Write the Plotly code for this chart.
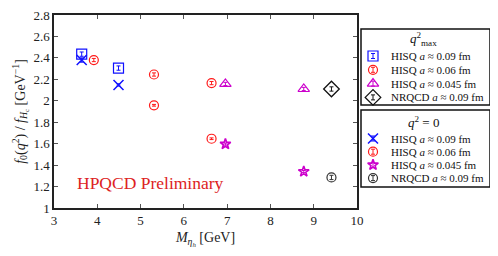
import plotly.graph_objects as go

# ---- data ----
hisq09_qmax_x = [3.64, 4.49]
hisq09_qmax_y = [2.435, 2.305]
hisq09_qmax_e = [0.02, 0.02]

hisq06_qmax_x = [3.92, 5.31, 6.64]
hisq06_qmax_y = [2.38, 2.245, 2.165]
hisq06_qmax_e = [0.015, 0.015, 0.015]

hisq045_qmax_x = [6.96, 8.77]
hisq045_qmax_y = [2.157, 2.11]
hisq045_qmax_e = [0.015, 0.015]

nrqcd_qmax_x = [9.41]
nrqcd_qmax_y = [2.11]
nrqcd_qmax_e = [0.02]

hisq09_q0_x = [3.64, 4.49]
hisq09_q0_y = [2.38, 2.148]
hisq09_q0_e = [0.02, 0.01]

hisq06_q0_x = [5.31, 6.64]
hisq06_q0_y = [1.958, 1.646]
hisq06_q0_e = [0.008, 0.008]

hisq045_q0_x = [6.96, 8.77]
hisq045_q0_y = [1.596, 1.34]
hisq045_q0_e = [0.01, 0.01]

nrqcd_q0_x = [9.41]
nrqcd_q0_y = [1.285]
nrqcd_q0_e = [0.02]

names = ["HISQ <i>a</i> ≈ 0.09 fm", "HISQ <i>a</i> ≈ 0.06 fm",
         "HISQ <i>a</i> ≈ 0.045 fm", "NRQCD <i>a</i> ≈ 0.09 fm"]

FONT = "Liberation Serif"
BLUE, RED, MAG, BLK, GRY = "#1010ff", "#ff1a1a", "#cc00cc", "#111111", "#333333"

series = [
    # x, y, err, name idx, symbol, color, size, lw, group
    (hisq09_qmax_x, hisq09_qmax_y, hisq09_qmax_e, 0, "square-open", BLUE, 10, 1.2, 0),
    (hisq06_qmax_x, hisq06_qmax_y, hisq06_qmax_e, 1, "circle-open", RED, 9, 1.2, 0),
    (hisq045_qmax_x, hisq045_qmax_y, hisq045_qmax_e, 2, "triangle-up-open", MAG, 10, 1.2, 0),
    (nrqcd_qmax_x, nrqcd_qmax_y, nrqcd_qmax_e, 3, "diamond-open", BLK, 12, 1.3, 0),
    (hisq09_q0_x, hisq09_q0_y, hisq09_q0_e, 0, "x-thin-open", BLUE, 10, 1.5, 1),
    (hisq06_q0_x, hisq06_q0_y, hisq06_q0_e, 1, "circle-open", RED, 9, 1.2, 1),
    (hisq045_q0_x, hisq045_q0_y, hisq045_q0_e, 2, "star-open", MAG, 8, 1.6, 1),
    (nrqcd_q0_x, nrqcd_q0_y, nrqcd_q0_e, 3, "circle-open", GRY, 9, 1.2, 1),
]

# ---- layout constants (pixels) ----
W, H = 498, 256
ML, MR, MT, MB = 54, 8, 15, 48
PLOT_RIGHT = 357
LEG_LEFT, LEG_RIGHT = 361, 490
leg_boxes = [(29, 105), (110, 187)]
leg_titles = ["<i>q</i><sup>2</sup><sub>max</sub>", "<i>q</i><sup>2</sup> = 0"]
leg_title_y = [39, 122]
leg_row0 = [56, 138.5]
leg_row_step = [13.8, 13.2]
SYM_X, TXT_X = 373, 389

inner_w = W - ML - MR
x_dom_end = (PLOT_RIGHT - ML) / inner_w
x2_dom_start = (LEG_LEFT - 1 - ML) / inner_w

fig = go.Figure()

for (x, y, e, ni, sym, col, size, lw, grp) in series:
    fig.add_trace(go.Scatter(
        x=x, y=y, mode="markers", name=names[ni], showlegend=False,
        marker=dict(symbol=sym, size=size, color=col, line=dict(color=col, width=lw)),
        error_y=dict(type="data", array=e, visible=True, color=col, thickness=1, width=2),
    ))

# ---- manual legends on a pixel-scaled helper axis ----
for gi, (top, bot) in enumerate(leg_boxes):
    fig.add_shape(type="rect", xref="x2", yref="y2", x0=LEG_LEFT, x1=LEG_RIGHT,
                  y0=top, y1=bot, line=dict(color=BLK, width=1.5),
                  fillcolor="white", layer="below")
    fig.add_annotation(xref="x2", yref="y2", x=(LEG_LEFT + LEG_RIGHT) / 2 - 2,
                       y=leg_title_y[gi], text=leg_titles[gi], showarrow=False,
                       font=dict(family=FONT, size=13, color=BLK))
k = [0, 0]
for (x, y, e, ni, sym, col, size, lw, grp) in series:
    ry = leg_row0[grp] + k[grp] * leg_row_step[grp]
    k[grp] += 1
    fig.add_trace(go.Scatter(
        x=[SYM_X], y=[ry], xaxis="x2", yaxis="y2", mode="markers", showlegend=False,
        hoverinfo="skip",
        marker=dict(symbol=sym, size=size, color=col, line=dict(color=col, width=lw)),
        error_y=dict(type="constant", value=2.5, visible=True, color=col, thickness=1, width=2),
    ))
    fig.add_annotation(xref="x2", yref="y2", x=TXT_X, y=ry, text=names[ni],
                       showarrow=False, xanchor="left", yanchor="middle",
                       font=dict(family=FONT, size=11, color=BLK))

fig.add_annotation(x=3.48, y=1.236, xref="x", yref="y", text="HPQCD Preliminary",
                   showarrow=False, xanchor="left", yanchor="middle",
                   font=dict(family=FONT, size=17.5, color="#dd2222"))

axis_common = dict(showline=True, linecolor="#222222", linewidth=1.5, mirror="ticks",
                   ticks="inside", ticklen=4, tickcolor="#555555", showgrid=False,
                   zeroline=False, automargin=False,
                   tickfont=dict(family=FONT, size=13, color="#222222"))

fig.update_layout(
    width=W, height=H,
    margin=dict(l=ML, r=MR, t=MT, b=MB),
    paper_bgcolor="white", plot_bgcolor="rgba(0,0,0,0)",
    font=dict(family=FONT, color="#222222"),
    showlegend=False,
    xaxis=dict(domain=[0, x_dom_end], range=[3, 10], dtick=1, tick0=3,
               title=dict(text="<i>M</i><sub><i>η<sub>h</sub></i></sub> [GeV]",
                          font=dict(family=FONT, size=14), standoff=5),
               **axis_common),
    yaxis=dict(range=[1, 2.8], dtick=0.2, tick0=1,
               title=dict(text="<i>f</i><sub>0</sub>(<i>q</i><sup>2</sup>) / <i>f</i><sub><i>H</i><sub>c</sub></sub> [GeV<sup>−1</sup>]",
                          font=dict(family=FONT, size=14), standoff=5),
               **axis_common),
    xaxis2=dict(domain=[x2_dom_start, 1], range=[LEG_LEFT - 1, W - MR], anchor="y2",
                visible=False, fixedrange=True),
    yaxis2=dict(domain=[0, 1], range=[H - MB, MT], anchor="x2",
                visible=False, fixedrange=True),
)

fig.write_html("out.html", config={"displayModeBar": False},
               post_script="document.body.style.margin='0';document.body.style.overflow='hidden';")
